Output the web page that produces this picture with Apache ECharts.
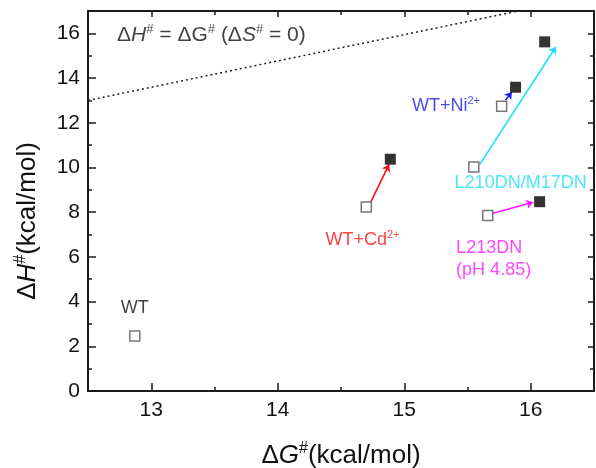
<!DOCTYPE html>
<html>
<head>
<meta charset="utf-8">
<script src="https://cdn.jsdelivr.net/npm/echarts@6/dist/echarts.min.js"></script>
<style>
  html, body { margin: 0; padding: 0; background: #fff; }
  #chart { width: 596px; height: 468px; }
</style>
</head>
<body>
<div id="chart"></div>
<script>
// open squares: before binding, filled squares: after binding
var openG = [12.87, 14.70, 15.55, 15.66, 15.77];
var openH = [2.46, 8.23, 10.02, 7.85, 12.74];
var filledG = [14.89, 16.11, 16.07, 15.88];
var filledH = [10.37, 15.62, 8.47, 13.59];

// arrows (start -> end), in data units
var arrowColors = ['#ff1010', '#1a1aee', '#19e3f2', '#ff18ff'];
var arrowFromG = [14.736, 15.80, 15.597, 15.694];
var arrowFromH = [8.46, 13.01, 10.14, 7.94];
var arrowToG = [14.880, 15.85, 16.198, 16.02];
var arrowToH = [10.14, 13.38, 15.39, 8.44];

// dotted reference line dH = dG (dS = 0)
var refLineG = [12.5, 15.9];
var refLineH = [13.0, 17.0];

// annotation texts and where they sit
var noteText = [
    'WT',
    'WT+Cd{sup|2+}',
    'WT+Ni{sup|2+}',
    'L210DN/M17DN',
    'L213DN\n(pH 4.85)',
    '\u0394{i|H}{sup|#} = \u0394G{sup|#} (\u0394{i|S}{sup|#} = 0)'
];
var noteColor = ['#111', '#ff1010', '#1a1aee', '#19e3f2', '#ff18ff', '#111'];
var noteAlign = ['center', 'center', 'center', 'center', 'left', 'left'];
var noteG = [12.87, 14.67, 15.33, 15.92, 15.41, 12.73];
var noteH = [3.70, 6.74, 12.74, 9.29, 5.89, 15.92];

var xMajor = [13, 14, 15, 16];
var xMinor = [13.5, 14.5, 15.5];
var yMajor = [0, 2, 4, 6, 8, 10, 12, 14, 16];
var yMinor = [1, 3, 5, 7, 9, 11, 13, 15];

var FONT = 'Liberation Sans, Arial, sans-serif';
var AXIS_COLOR = '#1a1a1a';

var zip = function (a, b) {
    var res = [];
    for (var i = 0; i < a.length; i++) {
        res.push([a[i], b[i]]);
    }
    return res;
};

var richText = function (size, color) {
    return {
        i: { fontSize: size, fontStyle: 'italic', color: color, fontFamily: FONT },
        sup: { fontSize: Math.round(size * 0.62), color: color, fontFamily: FONT, padding: [0, 0, Math.round(size * 0.55), 0] }
    };
};

var makeX = function (pos, ticks, len, showLabel) {
    return {
        type: 'value',
        position: pos,
        min: 12.5,
        max: 16.5,
        axisLine: { show: true, onZero: false, lineStyle: { color: AXIS_COLOR, width: 2 } },
        axisTick: { show: true, inside: true, length: len, customValues: ticks, lineStyle: { color: AXIS_COLOR, width: 1.5 } },
        axisLabel: {
            show: showLabel,
            customValues: ticks,
            margin: 9,
            fontSize: 21,
            color: '#111',
            fontFamily: FONT
        },
        splitLine: { show: false }
    };
};

var makeY = function (pos, ticks, len, showLabel) {
    return {
        type: 'value',
        position: pos,
        min: 0,
        max: 17,
        axisLine: { show: true, onZero: false, lineStyle: { color: AXIS_COLOR, width: 2 } },
        axisTick: { show: true, inside: true, length: len, customValues: ticks, lineStyle: { color: AXIS_COLOR, width: 1.5 } },
        axisLabel: {
            show: showLabel,
            customValues: ticks,
            margin: 8,
            fontSize: 21,
            color: '#111',
            fontFamily: FONT
        },
        splitLine: { show: false }
    };
};

var xAxes = [
    makeX('bottom', xMajor, 8, true),
    makeX('bottom', xMinor, 4, false),
    makeX('top', xMajor, 6, false),
    makeX('top', xMinor, 4, false)
];
xAxes[0].name = '\u0394{i|G}{sup|#}(kcal/mol)';
xAxes[0].nameLocation = 'middle';
xAxes[0].nameGap = 50;
xAxes[0].nameTextStyle = { fontSize: 26, color: '#111', fontFamily: FONT, rich: richText(26, '#111') };

var yAxes = [
    makeY('left', yMajor, 8, true),
    makeY('left', yMinor, 4, false),
    makeY('right', yMajor, 6, false),
    makeY('right', yMinor, 4, false)
];
yAxes[0].name = '\u0394{i|H}{sup|#}(kcal/mol)';
yAxes[0].nameLocation = 'middle';
yAxes[0].nameGap = 45;
// shift the title a little below the middle, like the original
yAxes[0].nameTextStyle = { fontSize: 26, color: '#111', fontFamily: FONT, rich: richText(26, '#111'), padding: [0, 40, 0, 0] };

var arrowData = [];
for (var i = 0; i < arrowFromG.length; i++) {
    arrowData.push({
        coords: [[arrowFromG[i], arrowFromH[i]], [arrowToG[i], arrowToH[i]]],
        lineStyle: { color: arrowColors[i] }
    });
}

var noteData = [];
for (var j = 0; j < noteText.length; j++) {
    noteData.push({
        value: [noteG[j], noteH[j]],
        label: {
            formatter: noteText[j],
            color: noteColor[j],
            align: noteAlign[j],
            fontSize: j === 5 ? 21 : 18,
            rich: richText(j === 5 ? 21 : 18, noteColor[j])
        }
    });
}

var chart = echarts.init(document.getElementById('chart'), null, { renderer: 'canvas' });

var option = {
    animation: false,
    backgroundColor: '#fff',
    grid: { left: 88, right: 2, top: 11, bottom: 77, containLabel: false, outerBoundsMode: 'none' },
    xAxis: xAxes,
    yAxis: yAxes,
    series: [
        {
            name: 'dH = dG',
            type: 'line',
            data: zip(refLineG, refLineH),
            showSymbol: false,
            symbol: 'none',
            lineStyle: { color: '#222', width: 1.5, type: [2, 3] },
            z: 1
        },
        {
            name: 'arrows',
            type: 'lines',
            coordinateSystem: 'cartesian2d',
            data: arrowData,
            symbol: ['none', 'arrow'],
            symbolSize: 7,
            lineStyle: { width: 1.6, opacity: 1, curveness: 0 },
            z: 2
        },
        {
            name: 'open',
            type: 'scatter',
            data: zip(openG, openH),
            symbol: 'rect',
            symbolSize: 10,
            itemStyle: { color: '#fff', borderColor: '#555', borderWidth: 1.5 },
            z: 3
        },
        {
            name: 'filled',
            type: 'scatter',
            data: zip(filledG, filledH),
            symbol: 'rect',
            symbolSize: 11,
            itemStyle: { color: '#000' },
            z: 3
        },
        {
            name: 'notes',
            type: 'scatter',
            data: noteData,
            symbolSize: 0,
            silent: true,
            label: {
                show: true,
                position: 'inside',
                fontSize: 18,
                fontFamily: FONT,
                verticalAlign: 'middle',
                lineHeight: 22
            },
            z: 4
        }
    ]
};

chart.setOption(option);
</script>
</body>
</html>
